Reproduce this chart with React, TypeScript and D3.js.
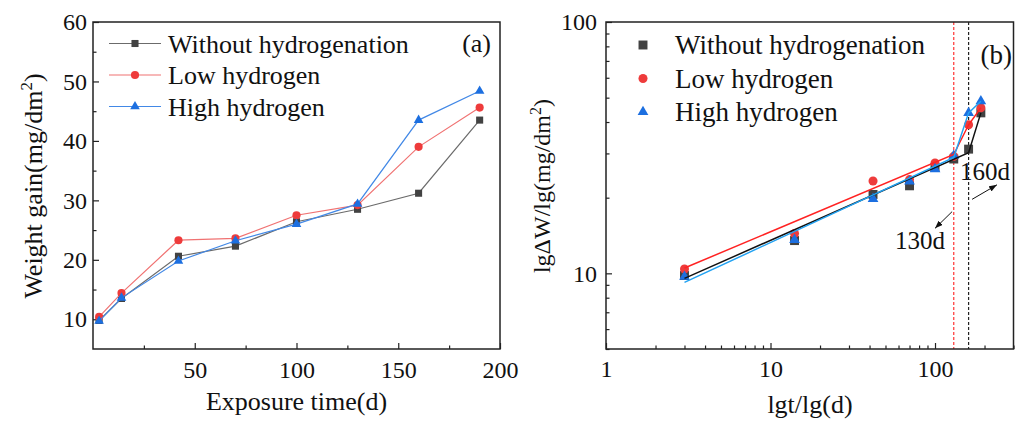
import React, { useEffect, useRef } from 'react';
import * as d3 from 'd3';

// exposure time (d) and weight gain (mg/dm2)
const days = [3, 14, 42, 70, 100, 130, 160, 190];
const withoutH = [9.8, 13.5, 20.6, 22.3, 26.4, 28.5, 31.2, 43.5];
const lowH = [10.4, 14.4, 23.3, 23.6, 27.5, 29.2, 39.0, 45.6];
const highH = [9.7, 13.6, 19.8, 23.2, 26.0, 29.4, 43.5, 48.4];
const seriesNames = ['Without hydrogenation', 'Low hydrogen', 'High hydrogen'];

// fitted lines drawn in panel (b)
const fitWithoutX = [3, 160, 190];
const fitWithoutY = [9.55, 30.2, 43.5];
const fitLowX = [3, 130, 160, 190];
const fitLowY = [10.5, 29.7, 39.0, 45.6];
const fitHighX = [3, 130, 160, 190];
const fitHighY = [9.2, 28.9, 43.5, 48.4];

// transition days marked with dashed lines
const markDays = [130, 160];
const markLabels = ['130d', '160d'];

const ticksXA = [50, 100, 150, 200];
const minorXA = [25, 75, 125, 175];
const ticksYA = [10, 20, 30, 40, 50, 60];
const minorYA = [15, 25, 35, 45, 55];
const ticksXB = [1, 10, 100];
const ticksYB = [10, 100];

const font = '"Liberation Serif", "Times New Roman", serif';

const App = () => {
  const svgRef = useRef<SVGSVGElement>(null);

  useEffect(() => {
    const svg = d3.select(svgRef.current);
    svg.selectAll('*').remove();

    const series = [
      { name: seriesNames[0], values: withoutH, mark: '#424242', line: '#6b6b6b', fit: '#111111', fx: fitWithoutX, fy: fitWithoutY, sym: d3.symbolSquare, sa: 50, sb: 80 },
      { name: seriesNames[1], values: lowH, mark: '#ee3b3b', line: '#f07272', fit: '#ff2222', fx: fitLowX, fy: fitLowY, sym: d3.symbolCircle, sa: 52, sb: 64 },
      { name: seriesNames[2], values: highH, mark: '#1c6fe0', line: '#4288e6', fit: '#22a2f2', fx: fitHighX, fy: fitHighY, sym: d3.symbolTriangle, sa: 40, sb: 50 },
    ];

    const styleAxis = (g: any, size: number) => {
      g.select('.domain').remove();
      g.selectAll('line').attr('stroke', '#222').attr('stroke-width', 1.2);
      g.selectAll('text').attr('font-family', font).attr('font-size', size).attr('fill', '#111');
    };

    const defs = svg.append('defs');
    defs.append('marker')
      .attr('id', 'arrow')
      .attr('viewBox', '0 0 8 6')
      .attr('refX', 8)
      .attr('refY', 3)
      .attr('markerWidth', 8)
      .attr('markerHeight', 6)
      .attr('markerUnits', 'userSpaceOnUse')
      .attr('orient', 'auto')
      .append('path')
      .attr('d', 'M0,0 L8,3 L0,6 Z')
      .attr('fill', '#111');

    // ---------- panel (a) ----------
    const xA = d3.scaleLinear().domain([0, 200]).range([93, 500]);
    const yA = d3.scaleLinear().domain([5, 60]).range([349, 22]);
    const gA = svg.append('g');

    gA.append('g').attr('transform', 'translate(0,349)')
      .call(d3.axisBottom(xA).tickValues(ticksXA).tickSize(-6).tickPadding(12))
      .call((g: any) => styleAxis(g, 24));
    gA.append('g').attr('transform', 'translate(0,349)')
      .call(d3.axisBottom(xA).tickValues(minorXA).tickSize(-3.5).tickFormat(() => ''))
      .call((g: any) => styleAxis(g, 24));
    gA.append('g').attr('transform', 'translate(93,0)')
      .call(d3.axisLeft(yA).tickValues(ticksYA).tickSize(-6).tickPadding(6))
      .call((g: any) => styleAxis(g, 24));
    gA.append('g').attr('transform', 'translate(93,0)')
      .call(d3.axisLeft(yA).tickValues(minorYA).tickSize(-3.5).tickFormat(() => ''))
      .call((g: any) => styleAxis(g, 24));

    const lineA = d3.line<number>().x((d, i) => xA(days[i])).y((d) => yA(d));
    series.forEach((s) => {
      gA.append('path').attr('d', lineA(s.values)).attr('fill', 'none')
        .attr('stroke', s.line).attr('stroke-width', 1.2);
      gA.selectAll(null).data(s.values).join('path')
        .attr('d', d3.symbol(s.sym, s.sa)())
        .attr('transform', (d, i) => `translate(${xA(days[i])},${yA(d)})`)
        .attr('fill', s.mark);
    });

    gA.append('rect').attr('x', 93).attr('y', 22).attr('width', 407).attr('height', 327)
      .attr('fill', 'none').attr('stroke', '#222').attr('stroke-width', 1.5);

    series.forEach((s, i) => {
      const y = 43.5 + i * 31.5;
      gA.append('line').attr('x1', 109).attr('x2', 161).attr('y1', y).attr('y2', y)
        .attr('stroke', s.line).attr('stroke-width', 1.2);
      gA.append('path').attr('d', d3.symbol(s.sym, s.sa)()).attr('transform', `translate(135,${y})`)
        .attr('fill', s.mark);
      gA.append('text').attr('x', 168).attr('y', y + 9).attr('font-family', font)
        .attr('font-size', 26).attr('fill', '#111').text(s.name);
    });
    gA.append('text').attr('x', 491).attr('y', 52).attr('text-anchor', 'end')
      .attr('font-family', font).attr('font-size', 26).attr('fill', '#111').text('(a)');

    gA.append('text').attr('x', 296.5).attr('y', 410).attr('text-anchor', 'middle')
      .attr('font-family', font).attr('font-size', 26).attr('fill', '#111').text('Exposure time(d)');
    const tA = gA.append('text').attr('transform', 'translate(42,186) rotate(-90)')
      .attr('text-anchor', 'middle').attr('font-family', font).attr('font-size', 26).attr('fill', '#111');
    tA.append('tspan').text('Weight gain(mg/dm');
    tA.append('tspan').attr('font-size', 17).attr('dy', -10).text('2');
    tA.append('tspan').attr('dy', 10).text(')');

    // ---------- panel (b) ----------
    const xB = d3.scaleLog().domain([1, 300]).range([606, 1013.5]);
    const yB = d3.scaleLog().domain([5, 100]).range([349, 22]);
    const gB = svg.append('g');

    gB.append('g').attr('transform', 'translate(0,349)')
      .call(d3.axisBottom(xB).tickValues(ticksXB).tickSize(-6).tickPadding(11).tickFormat(d3.format('d')))
      .call((g: any) => styleAxis(g, 24));
    gB.append('g').attr('transform', 'translate(0,349)')
      .call(d3.axisBottom(xB).tickValues(xB.ticks().filter((v) => !ticksXB.includes(v))).tickSize(-3.5).tickFormat(() => ''))
      .call((g: any) => styleAxis(g, 24));
    gB.append('g').attr('transform', 'translate(606,0)')
      .call(d3.axisLeft(yB).tickValues(ticksYB).tickSize(-6).tickPadding(9).tickFormat(d3.format('d')))
      .call((g: any) => styleAxis(g, 24));
    gB.append('g').attr('transform', 'translate(606,0)')
      .call(d3.axisLeft(yB).tickValues(yB.ticks().filter((v) => !ticksYB.includes(v))).tickSize(-3.5).tickFormat(() => ''))
      .call((g: any) => styleAxis(g, 24));

    // dashed transition lines
    const dashColors = ['#ff3333', '#222222'];
    markDays.forEach((d, i) => {
      gB.append('line').attr('x1', xB(d)).attr('x2', xB(d)).attr('y1', 22).attr('y2', 349)
        .attr('stroke', dashColors[i]).attr('stroke-width', 1.2).attr('stroke-dasharray', '3,2');
    });

    series.forEach((s) => {
      gB.selectAll(null).data(s.values).join('path')
        .attr('d', d3.symbol(s.sym, s.sb)())
        .attr('transform', (d, i) => `translate(${xB(days[i])},${yB(d)})`)
        .attr('fill', s.mark);
    });
    series.forEach((s) => {
      const lineB = d3.line<number>().x((d, i) => xB(s.fx[i])).y((d) => yB(d));
      gB.append('path').attr('d', lineB(s.fy)).attr('fill', 'none')
        .attr('stroke', s.fit).attr('stroke-width', 1.5);
    });

    // annotations, placed in data coordinates
    const arrows = [
      { from: [127, 17.6], to: [100, 15.1], text: [115, 12.45], anchor: 'end' },
      { from: [168, 19.7], to: [238, 22.5], text: [142, 23.6], anchor: 'start' },
    ];
    arrows.forEach((a, i) => {
      gB.append('line').attr('x1', xB(a.from[0])).attr('y1', yB(a.from[1]))
        .attr('x2', xB(a.to[0])).attr('y2', yB(a.to[1]))
        .attr('stroke', '#111').attr('stroke-width', 1).attr('marker-end', 'url(#arrow)');
      gB.append('text').attr('x', xB(a.text[0])).attr('y', yB(a.text[1])).attr('text-anchor', a.anchor)
        .attr('font-family', font).attr('font-size', 25).attr('fill', '#111').text(markLabels[i]);
    });

    gB.append('rect').attr('x', 606).attr('y', 22).attr('width', 407.5).attr('height', 327)
      .attr('fill', 'none').attr('stroke', '#222').attr('stroke-width', 1.5);

    series.forEach((s, i) => {
      const y = 45 + i * 33.5;
      gB.append('path').attr('d', d3.symbol(s.sym, s.sb)()).attr('transform', `translate(643,${y})`)
        .attr('fill', s.mark);
      gB.append('text').attr('x', 675).attr('y', y + 9).attr('font-family', font)
        .attr('font-size', 27).attr('fill', '#111').text(s.name);
    });
    gB.append('text').attr('x', 1012).attr('y', 64).attr('text-anchor', 'end')
      .attr('font-family', font).attr('font-size', 27).attr('fill', '#111').text('(b)');

    gB.append('text').attr('x', 810).attr('y', 413).attr('text-anchor', 'middle')
      .attr('font-family', font).attr('font-size', 26).attr('fill', '#111').text('lgt/lg(d)');
    const tB = gB.append('text').attr('transform', 'translate(550,186) rotate(-90)')
      .attr('text-anchor', 'middle').attr('font-family', font).attr('font-size', 24).attr('fill', '#111');
    tB.append('tspan').text('lgΔW/lg(mg/dm');
    tB.append('tspan').attr('font-size', 16).attr('dy', -9).text('2');
    tB.append('tspan').attr('dy', 9).text(')');
  }, []);

  return (
    <svg
      ref={svgRef}
      width={1024}
      height={421}
      style={{ position: 'absolute', left: 0, top: 0, background: '#fff', display: 'block' }}
    />
  );
};

export default App;
